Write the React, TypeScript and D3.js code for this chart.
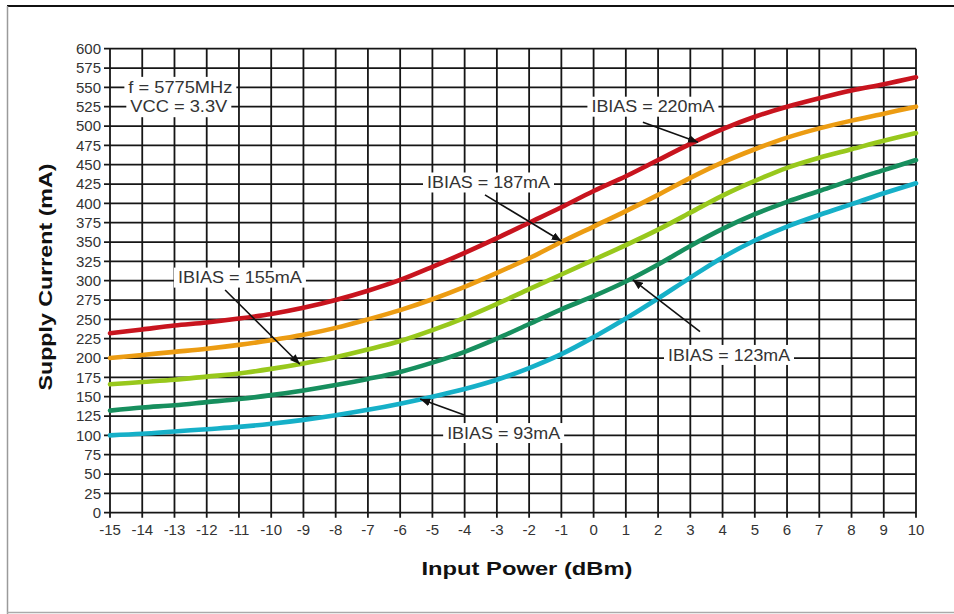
import React from 'react';
import * as d3 from 'd3';

// ---------- data ----------
const inputPower = [-15, -14, -13, -12, -11, -10, -9, -8, -7, -6, -5, -4, -3, -2, -1, 0, 1, 2, 3, 4, 5, 6, 7, 8, 9, 10];
const ibias220 = [232, 237, 242, 246, 251, 257, 265, 275, 287, 301, 318, 336, 355, 375, 395, 416, 435, 456, 477, 496, 512, 525, 536, 546, 554, 563];
const ibias187 = [200, 204, 208, 212, 217, 223, 230, 239, 250, 262, 276, 292, 310, 329, 350, 370, 390, 411, 433, 453, 470, 485, 497, 507, 516, 525];
const ibias155 = [166, 169, 172, 176, 180, 186, 193, 201, 211, 222, 236, 252, 270, 289, 308, 327, 346, 366, 388, 410, 429, 446, 459, 470, 481, 491];
const ibias123 = [132, 136, 139, 143, 147, 152, 158, 165, 173, 182, 194, 208, 225, 244, 263, 280, 299, 321, 345, 367, 386, 402, 416, 430, 443, 456];
const ibias93 = [100, 102, 105, 108, 111, 115, 120, 126, 133, 141, 150, 160, 172, 187, 205, 227, 251, 277, 304, 330, 352, 370, 385, 399, 413, 426];
const seriesValues = [ibias220, ibias187, ibias155, ibias123, ibias93];
const seriesLabels = ['IBIAS = 220mA', 'IBIAS = 187mA', 'IBIAS = 155mA', 'IBIAS = 123mA', 'IBIAS = 93mA'];
const seriesColors = ['#c8141e', '#ec9c12', '#98c81c', '#178f5e', '#16b0c8'];

const yTicks = [0, 25, 50, 75, 100, 125, 150, 175, 200, 225, 250, 275, 300, 325, 350, 375, 400, 425, 450, 475, 500, 525, 550, 575, 600];
const xTicks = inputPower;

// label anchors (data units: dBm, mA)
const labelCenterX = [1.84, -3.26, -10.97, 4.2, -2.79];
const labelCenterY = [525, 427, 304, 204, 103];
const labelWidths = [123, 123, 124, 122, 113];
const arrowTail = [[1.53, 505], [-3.37, 411], [-11.43, 288], [3.3, 234], [-3.99, 126]];
const arrowHead = [[3.24, 479], [-0.99, 351], [-9.11, 192], [1.22, 301], [-5.38, 147]];

const condText = ['f = 5775MHz', 'VCC = 3.3V'];
const condX = [-14.43, -14.37];
const condY = [550, 525];
const condWidths = [104, 97];

const W = 954;
const H = 614;
const FONT = 'Liberation Sans, Arial, Helvetica, sans-serif';

export default function App() {
  const x = d3.scaleLinear().domain([-15, 10]).range([110, 916]);
  const y = d3.scaleLinear().domain([0, 600]).range([512.7, 48.7]);
  const line = d3
    .line<number>()
    .x((_, i) => x(inputPower[i]))
    .y((d) => y(d))
    .curve(d3.curveCatmullRom.alpha(0.5));

  const gridColor = '#161616';

  return (
    <svg width={W} height={H} style={{ position: 'absolute', left: 0, top: 0, background: '#fff' }}>
      <defs>
        <marker id="ah" markerUnits="userSpaceOnUse" markerWidth={10} markerHeight={8} refX={10} refY={4} orient="auto">
          <path d="M0,0 L10,4 L0,8 Z" fill="#111" />
        </marker>
      </defs>
      <rect x={0} y={0} width={W} height={H} fill="#fff" />
      {/* frame */}
      <line x1={7} x2={W} y1={6} y2={6} stroke="#111" strokeWidth={2} />
      <line x1={7.5} x2={7.5} y1={6} y2={H} stroke="#9a9a9a" strokeWidth={1.5} />
      <line x1={7} x2={W} y1={612.5} y2={612.5} stroke="#aaa" strokeWidth={1.5} />

      {/* grid */}
      {yTicks.map((t) => (
        <line key={'gy' + t} x1={x(-15) - 6} x2={x(10)} y1={y(t)} y2={y(t)} stroke={gridColor} strokeWidth={1.8} />
      ))}
      {xTicks.map((t) => (
        <line key={'gx' + t} x1={x(t)} x2={x(t)} y1={y(600)} y2={y(0) + 5} stroke={gridColor} strokeWidth={1.8} />
      ))}

      {/* tick labels */}
      {yTicks.map((t) => (
        <text key={'ty' + t} x={x(-15) - 9} y={y(t)} dy="0.36em" textAnchor="end" fontFamily={FONT} fontSize={15} fill="#333">
          {t}
        </text>
      ))}
      {xTicks.map((t) => (
        <text key={'tx' + t} x={x(t)} y={535} textAnchor="middle" fontFamily={FONT} fontSize={15} fill="#333">
          {t}
        </text>
      ))}

      {/* condition labels */}
      {condText.map((s, i) => (
        <g key={'c' + i}>
          <rect x={x(condX[i]) - 4} y={y(condY[i]) - 10.5} width={condWidths[i] + 8} height={21} fill="#fff" />
          <text x={x(condX[i])} y={y(condY[i])} dy="0.36em" fontFamily={FONT} fontSize={16} fill="#333" textLength={condWidths[i]} lengthAdjust="spacingAndGlyphs">
            {s}
          </text>
        </g>
      ))}

      {/* series label boxes */}
      {seriesLabels.map((s, i) => (
        <rect key={'lb' + i} x={x(labelCenterX[i]) - labelWidths[i] / 2 - 4} y={y(labelCenterY[i]) - 10} width={labelWidths[i] + 8} height={20} fill="#fff" />
      ))}

      {/* curves */}
      {seriesValues.map((vals, i) => (
        <path key={'s' + i} d={line(vals) || ''} fill="none" stroke={seriesColors[i]} strokeWidth={4.6} strokeLinecap="round" />
      ))}

      {/* series labels + arrows */}
      {seriesLabels.map((s, i) => (
        <g key={'l' + i}>
          <text x={x(labelCenterX[i])} y={y(labelCenterY[i])} dy="0.36em" textAnchor="middle" fontFamily={FONT} fontSize={16} fill="#333" textLength={labelWidths[i]} lengthAdjust="spacingAndGlyphs">
            {s}
          </text>
          <line
            x1={x(arrowTail[i][0])}
            y1={y(arrowTail[i][1])}
            x2={x(arrowHead[i][0])}
            y2={y(arrowHead[i][1])}
            stroke="#111"
            strokeWidth={1.6}
            markerEnd="url(#ah)"
          />
        </g>
      ))}

      {/* axis titles */}
      <text x={527} y={575} textAnchor="middle" fontFamily={FONT} fontWeight="bold" fontSize={19} fill="#111" textLength={211} lengthAdjust="spacingAndGlyphs">
        Input Power (dBm)
      </text>
      <text transform="translate(52,277) rotate(-90)" textAnchor="middle" fontFamily={FONT} fontWeight="bold" fontSize={19} fill="#111" textLength={227} lengthAdjust="spacingAndGlyphs">
        Supply Current (mA)
      </text>
    </svg>
  );
}
